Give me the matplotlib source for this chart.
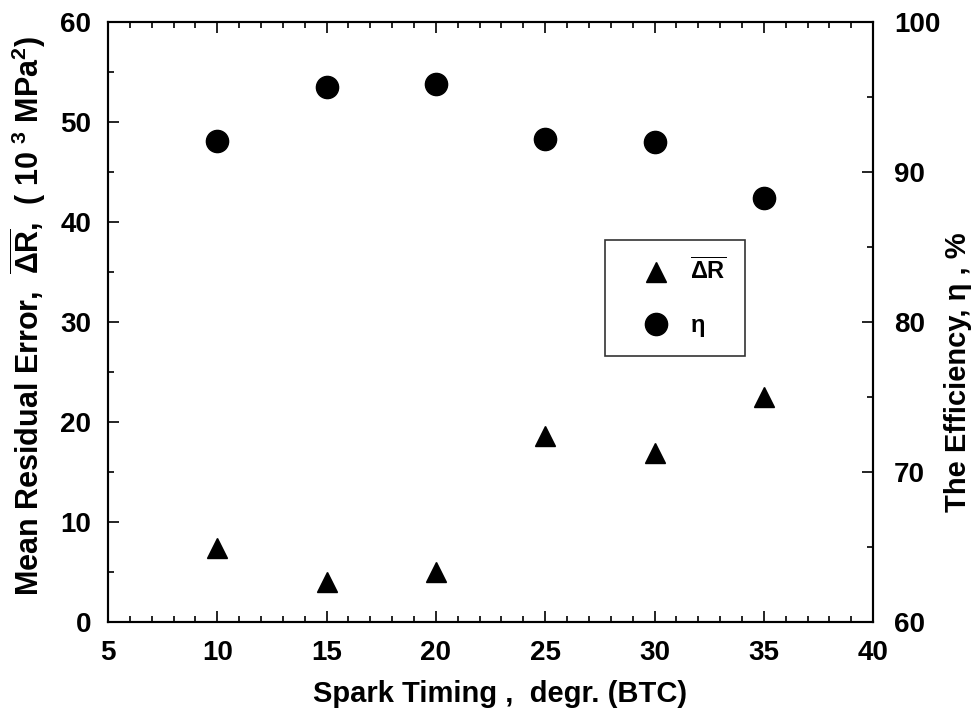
import numpy as np
from matplotlib import pyplot as plt
from matplotlib.ticker import MultipleLocator

plt.rcParams['font.family'] = ['Liberation Sans', 'DejaVu Sans']
plt.rcParams['mathtext.fontset'] = 'custom'
plt.rcParams['mathtext.rm'] = 'Liberation Sans:bold'
plt.rcParams['mathtext.it'] = 'Liberation Sans:bold'
plt.rcParams['mathtext.bf'] = 'Liberation Sans:bold'

# spark timing, degrees BTC
timing = [10, 15, 20, 25, 30, 35]
# mean residual error (10^3 MPa^2), left axis
residual = [7.4, 4.0, 5.0, 18.6, 16.9, 22.5]
# efficiency eta (%), right axis
efficiency = [92.1, 95.7, 95.9, 92.2, 92.0, 88.3]

fig = plt.figure(figsize=(9.71, 7.19), dpi=100)
ax = fig.add_axes([0.1112, 0.1349, 0.788, 0.8345])
ax2 = ax.twinx()

l1, = ax.plot(timing, residual, linestyle='none', marker='^', markersize=15,
              color='black', label=r'$\overline{\Delta \mathrm{R}}$')
l2, = ax2.plot(timing, efficiency, linestyle='none', marker='o', markersize=16,
               color='black', label='η')

ax.set_xlim(5, 40)
ax.set_ylim(0, 60)
ax2.set_ylim(60, 100)

ax.xaxis.set_major_locator(MultipleLocator(5))
ax.xaxis.set_minor_locator(MultipleLocator(1))
ax.yaxis.set_major_locator(MultipleLocator(10))
ax.yaxis.set_minor_locator(MultipleLocator(5))
ax2.yaxis.set_major_locator(MultipleLocator(10))
ax2.yaxis.set_minor_locator(MultipleLocator(5))

ax.tick_params(which='both', direction='in', top=True, right=False, width=1.2)
ax.tick_params(which='major', length=8, labelsize=20)
ax.tick_params(which='minor', length=4)
ax.tick_params(axis='x', which='major', pad=13)
ax.tick_params(axis='y', which='major', pad=12)
ax2.tick_params(which='both', direction='in', width=1.2)
ax2.tick_params(which='major', length=8, labelsize=20, pad=15)
ax2.tick_params(which='minor', length=4)
for lab in ax.get_xticklabels() + ax.get_yticklabels() + ax2.get_yticklabels():
    lab.set_fontweight('bold')

for sp in list(ax.spines.values()) + list(ax2.spines.values()):
    sp.set_linewidth(1.5)

ax.set_xlabel('Spark Timing ,  degr. (BTC)', fontsize=21, fontweight='bold')
ax.xaxis.set_label_coords(0.513, -0.097)
ax.set_ylabel(r'Mean Residual Error,  $\overline{\Delta \mathrm{R}}$,  ( 10 $^{3}$ MPa$^{2}$)',
              fontsize=22, fontweight='bold')
ax.yaxis.set_label_coords(-0.079, 0.51)
ax2.set_ylabel('The Efficiency, η , %', fontsize=21, fontweight='bold')
ax2.yaxis.set_label_coords(1.092, 0.417)

leg = ax2.legend(handles=[l1, l2], loc='upper left', bbox_to_anchor=(0.65, 0.637),
                 prop={'size': 17, 'weight': 'bold'}, frameon=True, fancybox=False,
                 borderpad=0.8, handletextpad=0.1, labelspacing=1.25, handlelength=2.7,
                 borderaxespad=0)
leg.get_frame().set_edgecolor('black')
leg.get_frame().set_linewidth(1.2)

fig.savefig('out.png', dpi=100)
